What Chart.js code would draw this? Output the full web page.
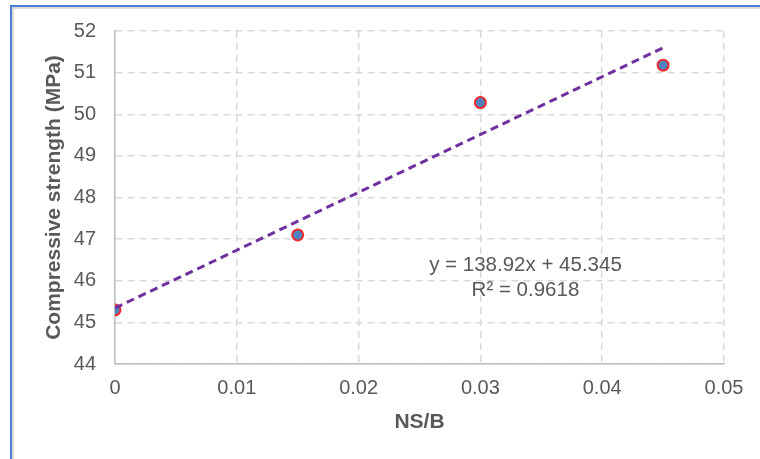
<!DOCTYPE html>
<html>
<head>
<meta charset="utf-8">
<script src="https://cdn.jsdelivr.net/npm/chart.js@4/dist/chart.umd.min.js"></script>
<style>
  html, body { margin: 0; padding: 0; background: #ffffff; }
  #wrap { position: relative; width: 760px; height: 459px; overflow: hidden; }
  #frame {
    position: absolute; left: 10px; top: 5px; width: 800px; height: 500px;
    border-left: 2px solid #4a7dd6; border-top: 2px solid #4a7dd6;
    pointer-events: none;
  }
  #frame::after {
    content: ""; position: absolute; left: 0; top: 0; right: 0; bottom: 0;
    border-left: 2px solid #dcdcdc; border-top: 2px solid #dcdcdc;
  }
  canvas { position: absolute; left: 0; top: 0; }
</style>
</head>
<body>
<div id="wrap">
  <canvas id="c" width="760" height="459"></canvas>
  <div id="frame"></div>
</div>
<script>
// Nano-silica to binder ratio and measured compressive strength
const nsRatio = [0, 0.015, 0.03, 0.045];
const strength = [45.3, 47.1, 50.28, 51.18];

// Linear trendline stated on the chart
const slope = 138.92;
const intercept = 45.345;
const rSquared = 0.9618;
const trendX = [0, 0.045];

const xTicks = [0, 0.01, 0.02, 0.03, 0.04, 0.05];
const yTicks = [44, 45, 46, 47, 48, 49, 50, 51, 52];

const textColor = '#595959';
const fontFamily = '"Liberation Sans", Arial, Helvetica, sans-serif';

const equationLabel = {
  id: 'equationLabel',
  afterDatasetsDraw(chart) {
    const { ctx, scales } = chart;
    const cx = scales.x.getPixelForValue(0.0337);
    const y1 = scales.y.getPixelForValue(46.37);
    const y2 = scales.y.getPixelForValue(45.77);
    ctx.save();
    ctx.fillStyle = textColor;
    ctx.font = '20.5px ' + fontFamily;
    ctx.textAlign = 'center';
    ctx.textBaseline = 'middle';
    ctx.fillText('y = ' + slope.toFixed(2) + 'x + ' + intercept.toFixed(3), cx, y1);
    ctx.fillText('R\u00B2 = ' + rSquared.toFixed(4), cx, y2);
    ctx.restore();
  }
};

new Chart(document.getElementById('c'), {
  type: 'scatter',
  data: {
    datasets: [
      {
        label: 'Trendline',
        type: 'line',
        data: trendX.map(x => ({ x, y: slope * x + intercept })),
        borderColor: '#7030a0',
        borderWidth: 3,
        borderDash: [8, 5],
        pointRadius: 0,
        fill: false,
        order: 0
      },
      {
        label: 'Compressive strength',
        data: nsRatio.map((x, i) => ({ x, y: strength[i] })),
        backgroundColor: '#4f81bd',
        borderColor: '#ee2a2a',
        borderWidth: 2,
        pointRadius: 5.5,
        order: 1
      }
    ]
  },
  options: {
    responsive: false,
    animation: false,
    layout: { padding: { left: 0, top: 31, right: 36, bottom: 0 } },
    plugins: {
      legend: { display: false },
      tooltip: { enabled: false }
    },
    scales: {
      x: {
        type: 'linear',
        min: 0,
        max: 0.05,
        afterBuildTicks: s => { s.ticks = xTicks.map(v => ({ value: v })); },
        afterFit: s => { s.height = 95; },
        ticks: {
          color: textColor,
          font: { family: fontFamily, size: 20 },
          padding: 12,
          callback: v => String(v)
        },
        grid: {
          color: '#d9d9d9',
          lineWidth: 1.5,
          drawTicks: false
        },
        border: { display: true, color: '#bfbfbf', width: 1.5, dash: [7, 5] },
        title: {
          display: true,
          text: 'NS/B',
          color: textColor,
          font: { family: fontFamily, size: 21, weight: 'bold', lineHeight: 1.2 },
          padding: { top: 0, bottom: 24 }
        }
      },
      y: {
        type: 'linear',
        min: 44,
        max: 52,
        afterBuildTicks: s => { s.ticks = yTicks.map(v => ({ value: v })); },
        afterFit: s => { s.width = 115; },
        ticks: {
          color: textColor,
          font: { family: fontFamily, size: 20 },
          padding: 19
        },
        grid: {
          color: '#d9d9d9',
          lineWidth: 1.5,
          drawTicks: false
        },
        border: { display: true, color: '#bfbfbf', width: 1.5, dash: [7, 5] },
        title: {
          display: true,
          text: 'Compressive strength (MPa)',
          color: textColor,
          font: { family: fontFamily, size: 21, weight: 'bold', lineHeight: 1.2 },
          padding: { top: 42, bottom: 0 }
        }
      }
    }
  },
  plugins: [equationLabel]
});
</script>
</body>
</html>
